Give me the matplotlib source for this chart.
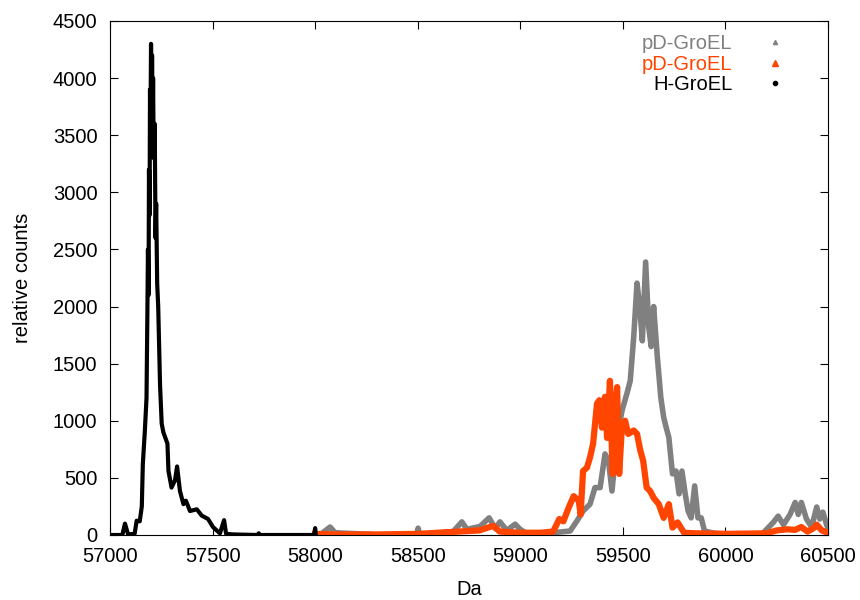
import matplotlib
matplotlib.use("Agg")
import matplotlib.pyplot as plt
from matplotlib.lines import Line2D

plt.rcParams["font.family"] = ["Liberation Sans", "DejaVu Sans"]

# H-GroEL (black)
h_da = [57000, 57060, 57073, 57088, 57120, 57130, 57145, 57155, 57160, 57170,
        57178, 57182, 57185, 57188, 57190, 57193, 57195, 57197, 57200, 57203,
        57205, 57208, 57210, 57213, 57218, 57222, 57225, 57230, 57235,
        57244, 57252, 57260, 57280, 57285, 57300, 57317, 57327, 57341, 57358,
        57370, 57390, 57423, 57447, 57478, 57502, 57520, 57536, 57556, 57566,
        57600, 57720, 57725, 57730, 57995, 58000, 58003]
h_counts = [0, 0, 100, 5, 10, 125, 120, 250, 620, 915,
            1200, 1900, 2500, 2100, 3200, 2800, 3900, 3500, 4300, 3700,
            4200, 3600, 4000, 3300, 3600, 2600, 2900, 2200, 2000,
            1310, 975, 900, 800, 560, 415, 480, 600, 385, 270,
            300, 210, 225, 170, 140, 70, 40, 15, 130, 10,
            5, 0, 15, 0, 0, 60, 0]

# pD-GroEL (grey)
g_da = [58000, 58030, 58073, 58097, 58154, 58250, 58300, 58495, 58502, 58509,
        58610, 58673, 58715, 58740, 58804, 58848, 58877, 58901, 58934, 58975,
        58999, 59030, 59100, 59160, 59243, 59275, 59306, 59340, 59364, 59389,
        59413, 59430, 59447, 59472, 59496, 59520, 59536, 59553, 59569, 59582,
        59595, 59611, 59626, 59638, 59650, 59668, 59685, 59699, 59710, 59724,
        59742, 59759, 59774, 59788, 59804, 59818, 59833, 59850, 59866, 59882,
        59898, 59946, 60000, 60100, 60180, 60233, 60257, 60283, 60315, 60340,
        60355, 60370, 60395, 60420, 60445, 60460, 60475, 60493, 60500]
g_counts = [0, 10, 70, 20, 15, 8, 0, 0, 60, 0,
            20, 30, 115, 50, 75, 150, 60, 115, 40, 95,
            50, 15, 10, 20, 35, 120, 210, 270, 415, 415,
            710, 650, 385, 850, 1090, 1240, 1350, 1735, 2205, 2000,
            1700, 2390, 1820, 1650, 2000, 1560, 1205, 1030, 950, 855,
            535, 560, 360, 560, 360, 210, 150, 430, 150, 150,
            35, 15, 10, 8, 10, 110, 165, 90, 180, 285,
            180, 285, 140, 70, 245, 140, 200, 90, 60]

# pD-GroEL (orange)
o_da = [58000, 58100, 58300, 58500, 58600, 58700, 58800, 58868, 58900, 59000,
        59100, 59160, 59178, 59190, 59210, 59236, 59260, 59285, 59294, 59306,
        59325, 59340, 59355, 59374, 59385, 59398, 59413, 59423, 59437, 59450,
        59462, 59472, 59482, 59496, 59511, 59526, 59553, 59569, 59585, 59599,
        59616, 59633, 59650, 59675, 59699, 59724, 59742, 59767, 59798, 59850,
        60000, 60200, 60250, 60300, 60340, 60370, 60400, 60430, 60445, 60470,
        60500]
o_counts = [10, 5, 5, 10, 20, 30, 40, 80, 30, 20,
            20, 30, 95, 140, 120, 240, 340, 300, 180, 560,
            590, 680, 800, 1150, 1180, 940, 1210, 850, 1350, 535,
            1120, 1295, 535, 965, 1000, 885, 915, 885, 740, 650,
            415, 385, 325, 270, 150, 270, 65, 110, 20, 15,
            10, 15, 40, 50, 45, 70, 30, 60, 90, 40,
            20]

labels = ["pD-GroEL", "pD-GroEL", "H-GroEL"]
colors = ["#808080", "#ff4500", "black"]

fig = plt.figure(figsize=(8.6, 6), dpi=100)
ax = fig.add_axes([110 / 860, 1 - 535 / 600, 718 / 860, 514 / 600])

ax.plot(g_da, g_counts, color=colors[0], lw=4, zorder=2)
ax.plot(o_da, o_counts, color=colors[1], lw=4.5, zorder=3)
ax.plot(h_da, h_counts, color=colors[2], lw=3, zorder=4)

ax.set_xlim(57000, 60500)
ax.set_ylim(0, 4500)
ax.set_xticks(range(57000, 60501, 500))
ax.set_yticks(range(0, 4501, 500))
ax.tick_params(direction="in", top=True, right=True, length=6, labelsize=14.5, pad=9)
ax.set_xlabel("Da", fontsize=14.5, labelpad=10)
ax.set_ylabel("relative counts", fontsize=14.5, labelpad=15)

handles = [
    Line2D([], [], ls="none", marker="^", ms=3, color=colors[0]),
    Line2D([], [], ls="none", marker="^", ms=5, color=colors[1]),
    Line2D([], [], ls="none", marker="o", ms=3, color=colors[2]),
]
ax.legend(handles, labels, loc="upper right", bbox_to_anchor=(0.951, 0.99),
          borderaxespad=0, frameon=False, markerfirst=False, handlelength=1,
          handletextpad=1.6, labelspacing=0.08, fontsize=14.5, labelcolor=colors)

fig.savefig("out.png", dpi=100)
